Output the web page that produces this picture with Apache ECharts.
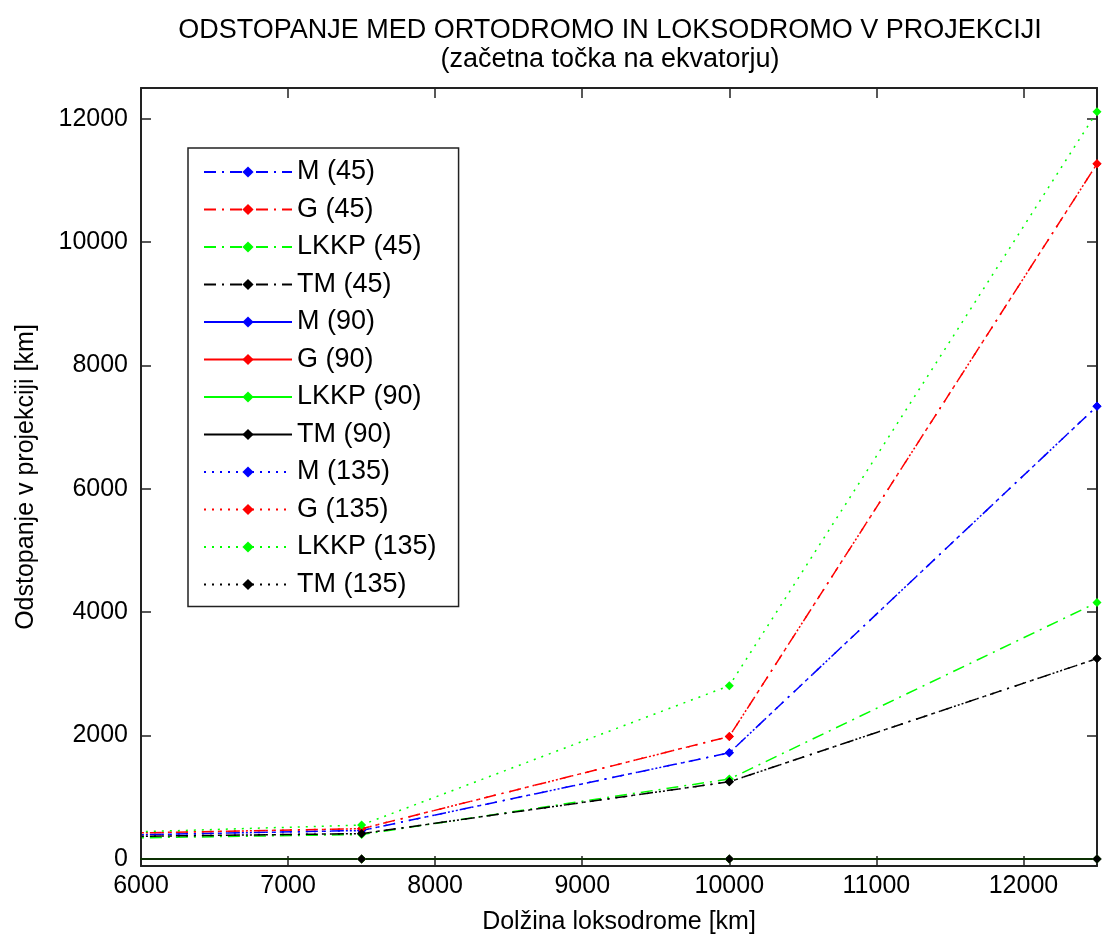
<!DOCTYPE html>
<html>
<head>
<meta charset="utf-8">
<script src="https://cdn.jsdelivr.net/npm/echarts@6/dist/echarts.min.js"></script>
<style>
html,body{margin:0;padding:0;background:#fff;}
#chart{width:1103px;height:940px;}
</style>
</head>
<body>
<div id="chart"></div>
<script>
// Data
var xValues = [5000, 7500, 10000, 12500];
var M45 = [347, 460, 1720, 7340];
var G45 = [377, 490, 1985, 11270];
var LKKP45 = [308, 395, 1295, 4157];
var TM45 = [338, 410, 1250, 3248];
var M90 = [0, 0, 0, 0];
var G90 = [0, 0, 0, 0];
var LKKP90 = [0, 0, 0, 0];
var TM90 = [0, 0, 0, 0];
var M135 = [347, 460, 1720, 7340];
var G135 = [377, 490, 1985, 11270];
var LKKP135 = [367, 550, 2808, 12115];
var TM135 = [338, 410, 1250, 3248];
var xTicks = [6000, 7000, 8000, 9000, 10000, 11000, 12000];
var yTicks = [0, 2000, 4000, 6000, 8000, 10000, 12000];

var names = ['M (45)', 'G (45)', 'LKKP (45)', 'TM (45)', 'M (90)', 'G (90)', 'LKKP (90)', 'TM (90)', 'M (135)', 'G (135)', 'LKKP (135)', 'TM (135)'];
var valuesList = [M45, G45, LKKP45, TM45, M90, G90, LKKP90, TM90, M135, G135, LKKP135, TM135];
var colors = ['#0000ff', '#ff0000', '#00ff00', '#000000'];
var dashDot = [12, 6, 2, 6];
var dotted = [2, 6];
var styles = [dashDot, 'solid', dotted];

function pairs(vals) {
  return xValues.map(function (x, i) { return [x, vals[i]]; });
}

var series = names.map(function (n, i) {
  var c = colors[i % 4];
  var st = styles[Math.floor(i / 4)];
  return {
    name: n,
    type: 'line',
    data: pairs(valuesList[i]),
    clip: true,
    symbol: 'diamond',
    symbolSize: 9,
    showSymbol: true,
    color: c,
    itemStyle: { color: c },
    lineStyle: { color: c, width: 1.5, type: st },
    emphasis: { disabled: true },
    animation: false
  };
});

var font = 'Liberation Sans, Arial, sans-serif';
var frame = { show: true, onZero: false, lineStyle: { color: '#222', width: 2 } };
var plain = function (v) { return String(v); };

var chart = echarts.init(document.getElementById('chart'));
chart.setOption({
  backgroundColor: '#fff',
  animation: false,
  title: {
    text: 'ODSTOPANJE MED ORTODROMO IN LOKSODROMO V PROJEKCIJI',
    subtext: '(začetna točka na ekvatorju)',
    left: 605, textAlign: 'center', top: 12,
    itemGap: 2,
    textStyle: { fontFamily: font, fontSize: 27, fontWeight: 'normal', color: '#000' },
    subtextStyle: { fontFamily: font, fontSize: 27, color: '#000' }
  },
  legend: {
    orient: 'vertical',
    left: 188, top: 148,
    padding: [10, 22, 8, 15],
    itemWidth: 88, itemHeight: 14, itemGap: 9.5,
    borderColor: '#222', borderWidth: 1.5,
    backgroundColor: '#fff',
    textStyle: { fontFamily: font, fontSize: 27, lineHeight: 28, color: '#000' },
    data: names
  },
  grid: { left: 141, right: 6, top: 88, bottom: 74, containLabel: false },
  xAxis: [{
    type: 'value', min: 6000, max: 12500, position: 'bottom',
    name: 'Dolžina loksodrome [km]', nameLocation: 'middle', nameGap: 44,
    nameTextStyle: { fontFamily: font, fontSize: 25, color: '#000' },
    axisLine: frame,
    axisTick: { show: true, inside: true, length: 10, customValues: xTicks, lineStyle: { color: '#222', width: 1.5 } },
    axisLabel: { show: true, customValues: xTicks, formatter: plain, margin: 8, fontFamily: font, fontSize: 25, color: '#000' },
    splitLine: { show: false }
  }, {
    type: 'value', min: 6000, max: 12500, position: 'top',
    axisLine: frame,
    axisTick: { show: true, inside: true, length: 10, customValues: xTicks, lineStyle: { color: '#222', width: 1.5 } },
    axisLabel: { show: false },
    splitLine: { show: false }
  }],
  yAxis: [{
    type: 'value', min: -115, max: 12500, position: 'left',
    name: 'Odstopanje v projekciji [km]', nameLocation: 'middle', nameGap: 102,
    nameTextStyle: { fontFamily: font, fontSize: 25, color: '#000' },
    axisLine: frame,
    axisTick: { show: true, inside: true, length: 10, customValues: yTicks, lineStyle: { color: '#222', width: 1.5 } },
    axisLabel: { show: true, customValues: yTicks, formatter: plain, margin: 13, fontFamily: font, fontSize: 25, color: '#000' },
    splitLine: { show: false }
  }, {
    type: 'value', min: -115, max: 12500, position: 'right',
    axisLine: frame,
    axisTick: { show: true, inside: true, length: 10, customValues: yTicks, lineStyle: { color: '#222', width: 1.5 } },
    axisLabel: { show: false },
    splitLine: { show: false }
  }],
  series: series
});
</script>
</body>
</html>
